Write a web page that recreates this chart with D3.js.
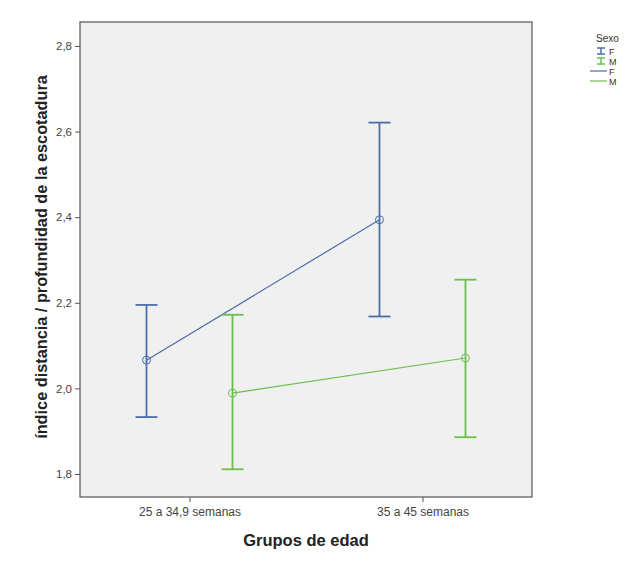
<!DOCTYPE html>
<html lang="es">
<head>
<meta charset="UTF-8">
<title>Grupos de edad</title>
<script src="https://d3js.org/d3.v7.min.js"></script>
<style>
  body { margin: 0; background: #fff; }
  text { font-family: "Liberation Sans", Arial, sans-serif; }
</style>
</head>
<body>
<div id="chart"></div>
<script>
// data
var groups = ["25 a 34,9 semanas", "35 a 45 semanas"];
var sexes = ["F", "M"];
var meanF = [2.066, 2.394];
var lowF = [1.933, 2.168];
var highF = [2.195, 2.621];
var meanM = [1.989, 2.071];
var lowM = [1.811, 1.886];
var highM = [2.172, 2.254];
var yTicks = [1.8, 2.0, 2.2, 2.4, 2.6, 2.8];

var width = 631, height = 572;
var plotL = 80, plotR = 532, plotT = 22, plotB = 497;
var colors = { F: "#4a6ea8", M: "#6bbf4e" };

var svg = d3.select("#chart").append("svg")
    .attr("width", width)
    .attr("height", height);

var x = d3.scalePoint()
    .domain(groups)
    .range([plotL, plotR])
    .padding(0.47);

var dodge = d3.scalePoint()
    .domain(sexes)
    .range([-43, 43]);

var y = d3.scaleLinear()
    .domain([1.8, 2.8])
    .range([474, 46]);

// plot background + frame
svg.append("rect")
    .attr("x", plotL).attr("y", plotT)
    .attr("width", plotR - plotL).attr("height", plotB - plotT)
    .attr("fill", "#f0f0f0")
    .attr("stroke", "#555").attr("stroke-width", 1.2);

// y axis
var yAxis = svg.append("g")
    .attr("transform", "translate(" + plotL + ",0)")
    .call(d3.axisLeft(y).tickValues(yTicks).tickSize(5)
        .tickFormat(function(d) { return d3.format(".1f")(d).replace(".", ","); }));
yAxis.select(".domain").remove();
yAxis.selectAll("line").attr("stroke", "#555");
yAxis.selectAll("text").attr("fill", "#444").style("font-size", "11.5px");

// x axis
var xAxis = svg.append("g")
    .attr("transform", "translate(0," + plotB + ")")
    .call(d3.axisBottom(x).tickSize(5).tickPadding(5));
xAxis.select(".domain").remove();
xAxis.selectAll("line").attr("stroke", "#555");
xAxis.selectAll("text").attr("fill", "#444").style("font-size", "12px");

// axis titles
svg.append("text")
    .attr("x", 306).attr("y", 546)
    .attr("text-anchor", "middle")
    .style("font-size", "16.5px").style("font-weight", "bold")
    .attr("fill", "#222")
    .text("Grupos de edad");

svg.append("text")
    .attr("transform", "translate(47,257) rotate(-90)")
    .attr("text-anchor", "middle")
    .style("font-size", "16.3px").style("font-weight", "bold")
    .attr("fill", "#222")
    .text("índice distancia / profundidad de la escotadura");

var series = [
    { key: "F", mean: meanF, low: lowF, high: highF },
    { key: "M", mean: meanM, low: lowM, high: highM }
];

var line = d3.line()
    .x(function(d) { return d.x; })
    .y(function(d) { return y(d.v); });

series.forEach(function(s) {
    var pts = groups.map(function(g, i) {
        return { x: x(g) + dodge(s.key), v: s.mean[i], lo: s.low[i], hi: s.high[i] };
    });
    var g = svg.append("g");

    g.append("path")
        .datum(pts)
        .attr("d", line)
        .attr("fill", "none")
        .attr("stroke", colors[s.key])
        .attr("stroke-width", 1.2);

    var bars = g.selectAll(".bar").data(pts).enter().append("g");
    bars.append("line")
        .attr("x1", function(d) { return d.x; }).attr("x2", function(d) { return d.x; })
        .attr("y1", function(d) { return y(d.lo); }).attr("y2", function(d) { return y(d.hi); })
        .attr("stroke", colors[s.key]).attr("stroke-width", 1.8);
    bars.append("line")
        .attr("x1", function(d) { return d.x - 11; }).attr("x2", function(d) { return d.x + 11; })
        .attr("y1", function(d) { return y(d.hi); }).attr("y2", function(d) { return y(d.hi); })
        .attr("stroke", colors[s.key]).attr("stroke-width", 1.8);
    bars.append("line")
        .attr("x1", function(d) { return d.x - 11; }).attr("x2", function(d) { return d.x + 11; })
        .attr("y1", function(d) { return y(d.lo); }).attr("y2", function(d) { return y(d.lo); })
        .attr("stroke", colors[s.key]).attr("stroke-width", 1.8);
    bars.append("circle")
        .attr("cx", function(d) { return d.x; })
        .attr("cy", function(d) { return y(d.v); })
        .attr("r", 4)
        .attr("fill", "none")
        .attr("stroke", colors[s.key]).attr("stroke-width", 1);
});

// legend
var leg = svg.append("g").attr("transform", "translate(596,0)");
leg.append("text").attr("x", 0).attr("y", 42)
    .style("font-size", "10px").attr("fill", "#333").text("Sexo");

sexes.forEach(function(k, i) {
    var yy = 51 + i * 10;
    leg.append("line").attr("x1", 5).attr("x2", 5).attr("y1", yy - 3).attr("y2", yy + 3)
        .attr("stroke", colors[k]).attr("stroke-width", 1.5);
    leg.append("line").attr("x1", 1).attr("x2", 9).attr("y1", yy - 3).attr("y2", yy - 3)
        .attr("stroke", colors[k]).attr("stroke-width", 1.5);
    leg.append("line").attr("x1", 1).attr("x2", 9).attr("y1", yy + 3).attr("y2", yy + 3)
        .attr("stroke", colors[k]).attr("stroke-width", 1.5);
    leg.append("text").attr("x", 13).attr("y", yy + 3.5)
        .style("font-size", "9px").attr("fill", "#333").text(k);
});
sexes.forEach(function(k, i) {
    var yy = 71 + i * 10;
    leg.append("line").attr("x1", -6).attr("x2", 11).attr("y1", yy).attr("y2", yy)
        .attr("stroke", colors[k]).attr("stroke-width", 1.2);
    leg.append("text").attr("x", 13).attr("y", yy + 3.5)
        .style("font-size", "9px").attr("fill", "#333").text(k);
});
</script>
</body>
</html>
